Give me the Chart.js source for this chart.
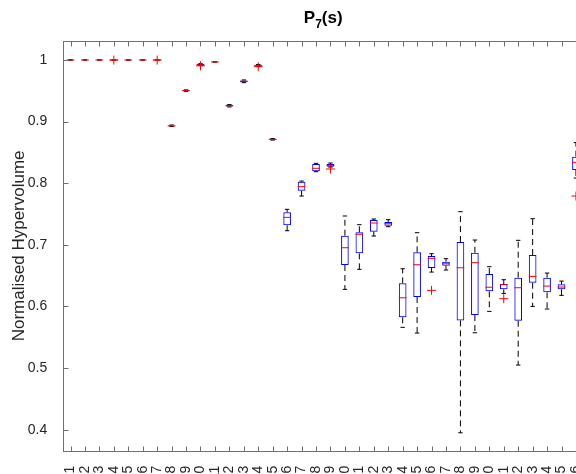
<!DOCTYPE html>
<html>
<head>
<meta charset="utf-8">
<title>P7(s) boxplot</title>
<script src="https://cdn.jsdelivr.net/npm/chart.js@4.4.1/dist/chart.umd.min.js"></script>
<style>
  html, body { margin: 0; padding: 0; background: #fff; overflow: hidden; }
  #wrap { position: absolute; left: 0; top: 0; width: 600px; height: 520px; }
</style>
</head>
<body>
<div id="wrap"><canvas id="boxChart" width="600" height="520"></canvas></div>
<script>
// ===== Data =====
const categories = ['1', '2', '3', '4', '5', '6', '7', '8', '9', '10', '11', '12',
  '13', '14', '15', '16', '17', '18', '19', '20', '21', '22', '23', '24',
  '25', '26', '27', '28', '29', '30', '31', '32', '33', '34', '35', '36'];

const medians = [1, 1, 1, 1, 1, 1, 1, 0.893, 0.9502, 0.992, 0.9968, 0.9258,
  0.9654, 0.991, 0.8713, 0.7446, 0.7944, 0.8242, 0.829, 0.6953, 0.7171, 0.7354, 0.7343, 0.6141,
  0.6677, 0.6781, 0.6693, 0.6628, 0.671, 0.6312, 0.6353, 0.6304, 0.6488, 0.6331, 0.6315, 0.8339];

const q1 = [1, 1, 1, 1, 1, 1, 1, 0.8925, 0.9495, 0.991, 0.9968, 0.9243,
  0.964, 0.9895, 0.8705, 0.7317, 0.7878, 0.8193, 0.8268, 0.6672, 0.6862, 0.7213, 0.731, 0.5823,
  0.6153, 0.6623, 0.6661, 0.5774, 0.586, 0.6245, 0.6278, 0.5768, 0.6385, 0.6229, 0.6278, 0.8214];

const q3 = [1, 1, 1, 1, 1, 1, 1, 0.8937, 0.951, 0.9935, 0.9968, 0.9272,
  0.9668, 0.9924, 0.872, 0.7528, 0.8025, 0.8312, 0.8312, 0.7148, 0.7203, 0.7403, 0.737, 0.6375,
  0.6878, 0.6818, 0.6726, 0.7045, 0.6872, 0.6526, 0.6364, 0.6466, 0.6834, 0.6466, 0.6359, 0.8431];

const whiskerLow = [1, 1, 1, 1, 1, 1, 1, 0.892, 0.949, 0.991, 0.9968, 0.9238,
  0.9632, 0.9893, 0.87, 0.7229, 0.7792, 0.8187, 0.8262, 0.6277, 0.6602, 0.7143, 0.7294, 0.5661,
  0.5568, 0.6558, 0.6591, 0.395, 0.5573, 0.592, 0.6212, 0.5049, 0.6001, 0.5958, 0.618, 0.8084];

const whiskerHigh = [1, 1, 1, 1, 1, 1, 1, 0.8945, 0.9515, 0.994, 0.9968, 0.9276,
  0.9676, 0.9926, 0.8725, 0.7576, 0.8035, 0.8323, 0.8328, 0.7468, 0.7327, 0.7419, 0.7408, 0.6612,
  0.7197, 0.6856, 0.6775, 0.7538, 0.7078, 0.6645, 0.6434, 0.7073, 0.7424, 0.6542, 0.6412, 0.866];

const outlierCats = ['4', '7', '10', '14', '19', '26', '31', '36'];
const outlierValues = [0.9998, 0.9998, 0.9905, 0.989, 0.8231, 0.6261, 0.6126, 0.7792];

const yTicks = [0.4, 0.5, 0.6, 0.7, 0.8, 0.9, 1];

// ===== Style =====
const FONT = "'Liberation Sans', Arial, Helvetica, sans-serif";
const TEXT_COLOR = '#262626';
const FRAME_COLOR = '#707070';
const TICK_LEN = 5;

// ===== Build point lists for the library =====
const whiskerPts = [];
categories.forEach((c, i) => {
  whiskerPts.push({ x: c, y: q3[i] }, { x: c, y: whiskerHigh[i] }, { x: c, y: null });
  whiskerPts.push({ x: c, y: q1[i] }, { x: c, y: whiskerLow[i] }, { x: c, y: null });
});
const capPts = categories.flatMap((c, i) => [{ x: c, y: whiskerLow[i] }, { x: c, y: whiskerHigh[i] }]);
const medianPts = categories.map((c, i) => ({ x: c, y: medians[i] }));
const boxRanges = categories.map((c, i) => [q1[i], q3[i]]);
const outlierPts = outlierCats.map((c, i) => ({ x: c, y: outlierValues[i] }));

// ===== Title with subscript =====
const titlePlugin = {
  id: 'subTitle',
  afterDraw(chart) {
    const { ctx, chartArea } = chart;
    const cx = (chartArea.left + chartArea.right) / 2;
    const big = 'bold 17px ' + FONT;
    const small = 'bold 12px ' + FONT;
    ctx.save();
    ctx.fillStyle = '#000';
    ctx.textBaseline = 'alphabetic';
    ctx.font = big;
    const wP = ctx.measureText('P').width;
    const wS = ctx.measureText('(s)').width;
    ctx.font = small;
    const w7 = ctx.measureText('7').width;
    let x = cx - (wP + w7 + wS) / 2;
    const base = 23;
    ctx.font = big;
    ctx.fillText('P', x, base);
    x += wP;
    ctx.font = small;
    ctx.fillText('7', x, base + 5);
    x += w7;
    ctx.font = big;
    ctx.fillText('(s)', x, base);
    ctx.restore();
  }
};

// ===== MATLAB-like box with inward ticks =====
const axesBoxPlugin = {
  id: 'axesBox',
  afterDatasetsDraw(chart) {
    const { ctx, chartArea: a, scales } = chart;
    const L = Math.round(a.left) + 0.5, R = Math.round(a.right) + 0.5;
    const T = Math.round(a.top) + 0.5, B = Math.round(a.bottom) + 0.5;
    ctx.save();
    ctx.setLineDash([]);
    ctx.strokeStyle = FRAME_COLOR;
    ctx.lineWidth = 1;
    ctx.strokeRect(L, T, R - L, B - T);
    ctx.beginPath();
    scales.x.ticks.forEach((t, i) => {
      const px = Math.round(scales.x.getPixelForTick(i)) + 0.5;
      ctx.moveTo(px, B); ctx.lineTo(px, B - TICK_LEN);
      ctx.moveTo(px, T); ctx.lineTo(px, T + TICK_LEN);
    });
    scales.y.ticks.forEach(t => {
      const py = Math.round(scales.y.getPixelForValue(t.value)) + 0.5;
      ctx.moveTo(L, py); ctx.lineTo(L + TICK_LEN, py);
      ctx.moveTo(R, py); ctx.lineTo(R - TICK_LEN, py);
    });
    ctx.stroke();
    ctx.restore();
  }
};

// ===== Chart =====
const ctx = document.getElementById('boxChart').getContext('2d');
new Chart(ctx, {
  type: 'bar',
  data: {
    labels: categories,
    datasets: [
      {
        type: 'line', label: 'Outliers', data: outlierPts, showLine: false,
        pointStyle: 'cross', pointRadius: 4.5, pointBorderColor: '#ff0000',
        pointBackgroundColor: '#ff0000', pointBorderWidth: 1
      },
      {
        type: 'line', label: 'Median', data: medianPts, showLine: false,
        pointStyle: 'line', pointRadius: 3.9, pointBorderColor: '#ff0000', pointBorderWidth: 1
      },
      {
        type: 'line', label: 'Whisker caps', data: capPts, showLine: false,
        pointStyle: 'line', pointRadius: 2.2, pointBorderColor: '#000000', pointBorderWidth: 1
      },
      {
        type: 'bar', label: 'Box', data: boxRanges,
        backgroundColor: 'rgba(0,0,0,0)', borderColor: '#0000ff', borderWidth: 1,
        borderSkipped: false, inflateAmount: 0, barPercentage: 0.53, categoryPercentage: 1
      },
      {
        type: 'line', label: 'Whiskers', data: whiskerPts,
        borderColor: '#000000', borderWidth: 1, borderDash: [6, 4],
        pointRadius: 0, spanGaps: false, tension: 0
      }
    ]
  },
  options: {
    responsive: false,
    animation: false,
    events: [],
    layout: { padding: { left: 0, top: 41, right: 16.7, bottom: 0 } },
    plugins: {
      legend: { display: false },
      tooltip: { enabled: false }
    },
    scales: {
      x: {
        offset: true,
        grid: { display: false },
        border: { display: false },
        ticks: {
          autoSkip: false, minRotation: 90, maxRotation: 90, padding: 7,
          color: TEXT_COLOR, font: { family: FONT, size: 14 }
        },
        afterFit: s => { s.height = 69.3; }
      },
      y: {
        min: 0.3659,
        max: 1.0308,
        grid: { display: false },
        border: { display: false },
        afterBuildTicks: s => { s.ticks = yTicks.map(v => ({ value: v })); },
        ticks: {
          padding: 8, color: TEXT_COLOR, font: { family: FONT, size: 14 },
          callback: v => (v === 1 ? '1' : v.toFixed(1))
        },
        title: {
          display: true, text: 'Normalised Hypervolume', color: TEXT_COLOR,
          font: { family: FONT, size: 17 }, padding: { top: 9.6, bottom: 0 }
        },
        afterFit: s => { s.width = 63.3; }
      }
    }
  },
  plugins: [titlePlugin, axesBoxPlugin]
});
</script>
</body>
</html>
